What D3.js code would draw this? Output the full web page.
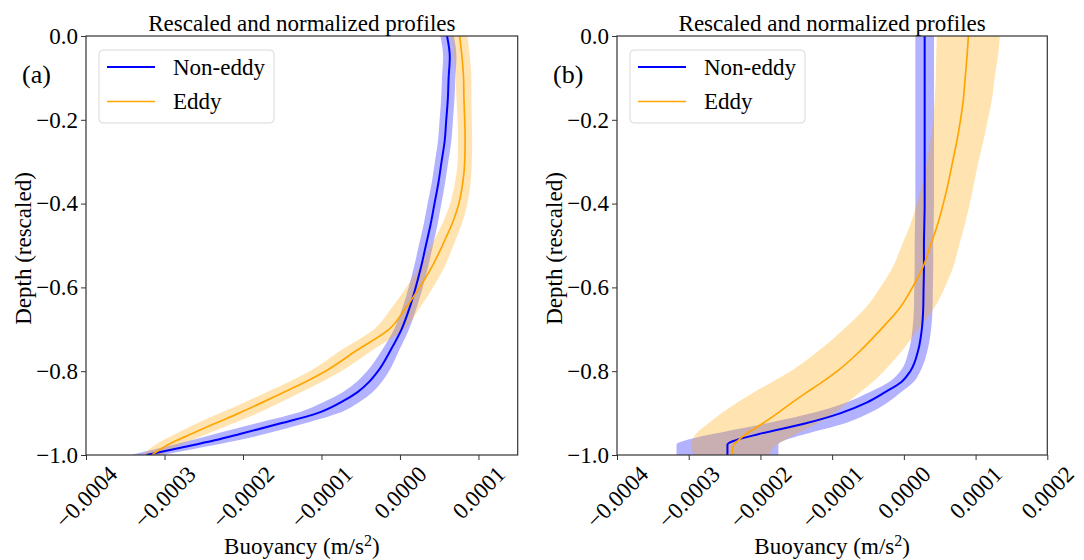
<!DOCTYPE html>
<html>
<head>
<meta charset="utf-8">
<script src="https://cdn.jsdelivr.net/npm/d3@7/dist/d3.min.js"></script>
<style>
  html, body { margin: 0; padding: 0; background: #fff; }
  svg { display: block; font-family: "Liberation Serif", "Times New Roman", serif; }
</style>
</head>
<body>
<svg id="chart" width="1084" height="560"></svg>
<script>
// ---------------- data ----------------
const depth = [0, -0.05, -0.1, -0.15, -0.2, -0.25, -0.3, -0.35, -0.4, -0.45, -0.5, -0.55, -0.6,
  -0.65, -0.7, -0.75, -0.8, -0.825, -0.85, -0.875, -0.9, -0.925, -0.95, -0.965, -0.975, -1.0];

// Panel (a)
const aNonEddyMean = [0.60e-4, 0.635e-4, 0.62e-4, 0.61e-4, 0.59e-4, 0.57e-4, 0.53e-4, 0.49e-4, 0.44e-4, 0.39e-4, 0.33e-4, 0.27e-4, 0.20e-4,
  0.12e-4, 0.02e-4, -0.12e-4, -0.28e-4, -0.39e-4, -0.54e-4, -0.76e-4, -1.05e-4, -1.53e-4, -2.04e-4, -2.36e-4, -2.60e-4, -3.23e-4];
const aNonEddyStd = [0.085e-4, 0.085e-4, 0.085e-4, 0.085e-4, 0.085e-4, 0.085e-4, 0.085e-4, 0.085e-4, 0.088e-4, 0.088e-4, 0.09e-4, 0.09e-4, 0.09e-4,
  0.09e-4, 0.095e-4, 0.11e-4, 0.14e-4, 0.16e-4, 0.19e-4, 0.23e-4, 0.27e-4, 0.31e-4, 0.32e-4, 0.30e-4, 0.27e-4, 0.20e-4];
const aEddyMean = [0.76e-4, 0.79e-4, 0.81e-4, 0.815e-4, 0.825e-4, 0.83e-4, 0.825e-4, 0.80e-4, 0.75e-4, 0.66e-4, 0.54e-4, 0.41e-4, 0.25e-4,
  0.07e-4, -0.14e-4, -0.55e-4, -0.95e-4, -1.20e-4, -1.48e-4, -1.76e-4, -2.05e-4, -2.36e-4, -2.66e-4, -2.84e-4, -2.95e-4, -3.16e-4];
const aEddyStd = [0.10e-4, 0.10e-4, 0.10e-4, 0.095e-4, 0.09e-4, 0.09e-4, 0.09e-4, 0.10e-4, 0.11e-4, 0.125e-4, 0.14e-4, 0.16e-4, 0.17e-4,
  0.18e-4, 0.19e-4, 0.20e-4, 0.20e-4, 0.21e-4, 0.22e-4, 0.23e-4, 0.24e-4, 0.23e-4, 0.20e-4, 0.18e-4, 0.16e-4, 0.12e-4];

// Panel (b)
const bNonEddyMean = [0.29e-4, 0.29e-4, 0.29e-4, 0.29e-4, 0.29e-4, 0.29e-4, 0.29e-4, 0.29e-4, 0.29e-4, 0.285e-4, 0.28e-4, 0.28e-4, 0.275e-4,
  0.27e-4, 0.25e-4, 0.20e-4, 0.09e-4, -0.03e-4, -0.26e-4, -0.52e-4, -0.88e-4, -1.38e-4, -2.02e-4, -2.35e-4, -2.46e-4, -2.46e-4];
const bNonEddyStd = [0.13e-4, 0.13e-4, 0.13e-4, 0.13e-4, 0.13e-4, 0.13e-4, 0.13e-4, 0.13e-4, 0.13e-4, 0.13e-4, 0.13e-4, 0.13e-4, 0.13e-4,
  0.13e-4, 0.13e-4, 0.13e-4, 0.14e-4, 0.17e-4, 0.22e-4, 0.29e-4, 0.40e-4, 0.55e-4, 0.65e-4, 0.69e-4, 0.71e-4, 0.71e-4];
const bEddyMean = [0.90e-4, 0.88e-4, 0.855e-4, 0.83e-4, 0.79e-4, 0.74e-4, 0.68e-4, 0.62e-4, 0.55e-4, 0.47e-4, 0.37e-4, 0.27e-4, 0.12e-4,
  -0.06e-4, -0.32e-4, -0.60e-4, -0.93e-4, -1.13e-4, -1.35e-4, -1.56e-4, -1.76e-4, -1.97e-4, -2.20e-4, -2.31e-4, -2.37e-4, -2.40e-4];
const bEddyStd = [0.44e-4, 0.43e-4, 0.41e-4, 0.40e-4, 0.38e-4, 0.37e-4, 0.36e-4, 0.36e-4, 0.37e-4, 0.38e-4, 0.40e-4, 0.42e-4, 0.45e-4,
  0.48e-4, 0.52e-4, 0.58e-4, 0.65e-4, 0.70e-4, 0.74e-4, 0.77e-4, 0.78e-4, 0.76e-4, 0.70e-4, 0.64e-4, 0.60e-4, 0.53e-4];

const seriesNames = ["Non-eddy", "Eddy"];
const seriesColors = ["#0000ff", "#ffa500"];
const seriesWidths = [2, 1.7];
const yTicks = [0, -0.2, -0.4, -0.6, -0.8, -1.0];
const aXTicks = [-0.0004, -0.0003, -0.0002, -0.0001, 0.0, 0.0001];
const bXTicks = [-0.0004, -0.0003, -0.0002, -0.0001, 0.0, 0.0001, 0.0002];
const aXDomain = [-0.0004, 0.00015];
const bXDomain = [-0.0004, 0.0002];
const panelTitle = "Rescaled and normalized profiles";
const xLabel = "Buoyancy (m/s";
const yLabel = "Depth (rescaled)";

// ---------------- drawing ----------------
const svg = d3.select("#chart");
const FS = 23;
const plotTop = 36, plotBottom = 455;
const fmtMinus = s => s.replace("-", "\u2212");

function drawPanel(cfg) {
  const {left, right, xDomain, xTicks, letter, series, clipId} = cfg;
  const x = d3.scaleLinear().domain(xDomain).range([left, right]);
  const y = d3.scaleLinear().domain([-1, 0]).range([plotBottom, plotTop]);
  const g = svg.append("g");

  g.append("clipPath").attr("id", clipId).append("rect")
    .attr("x", left).attr("y", plotTop).attr("width", right - left).attr("height", plotBottom - plotTop);

  const plot = g.append("g").attr("clip-path", `url(#${clipId})`);

  const area = d3.area()
    .y(d => y(d.d))
    .x0(d => x(d.m - d.s))
    .x1(d => x(d.m + d.s))
    .curve(d3.curveMonotoneY);
  const line = d3.line()
    .y(d => y(d.d))
    .x(d => x(d.m))
    .curve(d3.curveMonotoneY);

  series.forEach((s, i) => {
    const pts = depth.map((d, k) => ({d: d, m: s.mean[k], s: s.std[k]}));
    plot.append("path").datum(pts).attr("d", area)
      .attr("fill", seriesColors[i]).attr("fill-opacity", 0.3).attr("stroke", "none");
  });
  series.forEach((s, i) => {
    const pts = depth.map((d, k) => ({d: d, m: s.mean[k], s: s.std[k]}));
    plot.append("path").datum(pts).attr("d", line)
      .attr("fill", "none").attr("stroke", seriesColors[i]).attr("stroke-width", seriesWidths[i]);
  });

  // axes
  const yAxis = d3.axisLeft(y).tickValues(yTicks).tickSize(5).tickPadding(3)
    .tickFormat(d => fmtMinus(d3.format(".1f")(d)));
  const gy = g.append("g").attr("transform", `translate(${left},0)`).call(yAxis);
  gy.select(".domain").remove();
  gy.selectAll("line").attr("stroke", "#333").attr("stroke-width", 1);
  gy.selectAll("text").attr("font-size", FS).attr("fill", "#000")
    .attr("font-family", "Liberation Serif, serif");

  const xAxis = d3.axisBottom(x).tickValues(xTicks).tickSize(5)
    .tickFormat(d => fmtMinus(d3.format(".4f")(d)));
  const gx = g.append("g").attr("transform", `translate(0,${plotBottom})`).call(xAxis);
  gx.select(".domain").remove();
  gx.selectAll("line").attr("stroke", "#333").attr("stroke-width", 1);
  gx.selectAll("text").attr("font-size", FS).attr("fill", "#000")
    .attr("font-family", "Liberation Serif, serif")
    .attr("y", 0).attr("dy", null)
    .attr("dominant-baseline", "central")
    .attr("text-anchor", "middle")
    .attr("transform", function() {
      const len = this.getComputedTextLength();
      const h = (len + FS * 0.9) * Math.SQRT1_2;
      return `translate(0,${8 + h / 2}) rotate(-45)`;
    });

  // frame
  g.append("rect").attr("x", left).attr("y", plotTop).attr("width", right - left).attr("height", plotBottom - plotTop)
    .attr("fill", "none").attr("stroke", "#333").attr("stroke-width", 1.2);

  // title
  g.append("text").attr("x", (left + right) / 2).attr("y", 31).attr("text-anchor", "middle")
    .attr("font-size", FS).text(panelTitle);

  // panel letter
  g.append("text").attr("x", left - 64).attr("y", 83).attr("font-size", 26).text(letter);

  // axis labels
  const xl = g.append("text").attr("x", (left + right) / 2).attr("y", 554).attr("text-anchor", "middle")
    .attr("font-size", FS);
  xl.append("tspan").text(xLabel);
  xl.append("tspan").attr("dy", -8).attr("font-size", 16).text("2");
  xl.append("tspan").attr("dy", 8).text(")");

  g.append("text").attr("transform", `translate(${left - 55},${(plotTop + plotBottom) / 2 + 3}) rotate(-90)`)
    .attr("text-anchor", "middle").attr("font-size", FS).text(yLabel);

  // legend
  const lx = left + 13, ly = 50;
  const lg = g.append("g");
  lg.append("rect").attr("x", lx).attr("y", ly).attr("width", 175).attr("height", 73).attr("rx", 4)
    .attr("fill", "#fff").attr("fill-opacity", 0.8).attr("stroke", "#d9d9d9").attr("stroke-width", 1);
  seriesNames.forEach((name, i) => {
    const yy = ly + 17 + i * 34.5;
    lg.append("line").attr("x1", lx + 8).attr("x2", lx + 56).attr("y1", yy).attr("y2", yy)
      .attr("stroke", seriesColors[i]).attr("stroke-width", seriesWidths[i]);
    lg.append("text").attr("x", lx + 74).attr("y", yy).attr("dominant-baseline", "central")
      .attr("font-size", FS).text(name);
  });
}

drawPanel({
  left: 86, right: 517.7, xDomain: aXDomain, xTicks: aXTicks, letter: "(a)", clipId: "clipA",
  series: [{mean: aNonEddyMean, std: aNonEddyStd}, {mean: aEddyMean, std: aEddyStd}]
});
drawPanel({
  left: 617, right: 1047.3, xDomain: bXDomain, xTicks: bXTicks, letter: "(b)", clipId: "clipB",
  series: [{mean: bNonEddyMean, std: bNonEddyStd}, {mean: bEddyMean, std: bEddyStd}]
});
</script>
</body>
</html>
